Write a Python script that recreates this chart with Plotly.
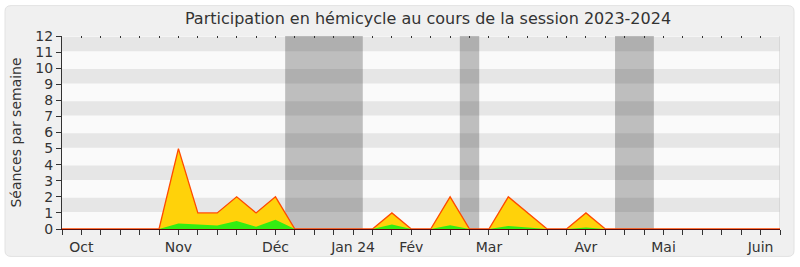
import plotly.graph_objects as go

# Week index (0 = first week of the axis) and values
weeks = list(range(0, 38))
total = [0, 0, 0, 0, 0, 0, 5, 1, 1, 2, 1, 2, 0, 0, 0, 0, 0, 1, 0, 0,
         2, 0, 0, 2, 1, 0, 0, 1, 0, 0, 0, 0, 0, 0, 0, 0, 0, 0]
present = [0, 0, 0, 0, 0, 0, 0.34, 0.28, 0.22, 0.49, 0.14, 0.57, 0, 0, 0, 0, 0, 0.28, 0, 0,
           0.24, 0, 0, 0.18, 0.1, 0, 0, 0.1, 0, 0, 0, 0, 0, 0, 0, 0, 0, 0]

month_ticks = [1, 6, 11, 15, 18, 22, 27, 31, 36]
month_labels = ["Oct", "Nov", "Déc", "Jan 24", "Fév", "Mar", "Avr", "Mai", "Juin"]

vacations = [(11.5, 15.5), (20.5, 21.5), (28.5, 30.5)]

y_max = 12
x_max = 37

W, H = 800, 267
ML, MR, MT, MB = 62, 20, 36, 34
PW, PH = W - ML - MR, H - MT - MB

def px2paper_x(px):
    return (px - ML) / PW

def px2paper_y(py):
    return (H - MB - py) / PH

ticktext = []
for w in weeks:
    ticktext.append(month_labels[month_ticks.index(w)] if w in month_ticks else "")

fig = go.Figure()

fig.add_trace(go.Scatter(
    x=weeks, y=total, mode="lines", fill="tozeroy",
    fillcolor="#ffd20a", line=dict(color="#ff4a00", width=1.3),
    hoverinfo="skip", showlegend=False))
fig.add_trace(go.Scatter(
    x=weeks, y=present, mode="lines", fill="tozeroy",
    fillcolor="#33ee11", line=dict(color="rgba(0,0,0,0)", width=0),
    hoverinfo="skip", showlegend=False))

shapes = []
# outer rounded box (paper referenced, below everything)
x0, x1 = px2paper_x(5), px2paper_x(794)
y0, y1 = px2paper_y(261), px2paper_y(5)
rx, ry = 6 / PW, 6 / PH
path = (f"M {x0+rx},{y0} L {x1-rx},{y0} Q {x1},{y0} {x1},{y0+ry} "
        f"L {x1},{y1-ry} Q {x1},{y1} {x1-rx},{y1} L {x0+rx},{y1} "
        f"Q {x0},{y1} {x0},{y1-ry} L {x0},{y0+ry} Q {x0},{y0} {x0+rx},{y0} Z")
shapes.append(dict(type="path", path=path, xref="paper", yref="paper",
                   fillcolor="#f0f0f0", line=dict(color="#e2e2e2", width=1),
                   layer="below"))
# plot background
shapes.append(dict(type="rect", xref="x", yref="y", x0=0, x1=x_max, y0=0, y1=y_max,
                   fillcolor="#fafafa", line=dict(width=0), layer="below"))
# horizontal stripes
for k in range(1, y_max, 2):
    shapes.append(dict(type="rect", xref="x", yref="y", x0=0, x1=x_max,
                       y0=k + 0.05, y1=k + 0.95, fillcolor="#e6e6e6",
                       line=dict(width=0), layer="below"))
# vacation bands
for a, b in vacations:
    shapes.append(dict(type="rect", xref="x", yref="y", x0=a, x1=b,
                       y0=0, y1=y_max, fillcolor="rgba(0,0,0,0.24)",
                       line=dict(width=0), layer="below"))
# right border
shapes.append(dict(type="line", xref="x", yref="y", x0=x_max, x1=x_max, y0=0, y1=y_max,
                   line=dict(color="#c8c8c8", width=1), layer="below"))

fig.update_layout(
    width=W, height=H,
    margin=dict(l=ML, r=MR, t=MT, b=MB),
    paper_bgcolor="white", plot_bgcolor="rgba(0,0,0,0)",
    font=dict(family="DejaVu Sans", color="#333333", size=14),
    title=dict(text="Participation en hémicycle au cours de la session 2023-2024",
               x=428 / W, xanchor="center", y=1 - 18 / H, yanchor="middle",
               yref="container", font=dict(size=16, color="#333333")),
    shapes=shapes,
    xaxis=dict(range=[0, x_max], tickmode="array", tickvals=weeks, ticktext=ticktext,
               ticks="outside", ticklen=5, tickcolor="#333333", tickwidth=1,
               showgrid=False, zeroline=False, showline=True, linecolor="#5a0a0a",
               linewidth=1, tickfont=dict(size=14, color="#333333")),
    xaxis2=dict(range=[0, x_max], overlaying="x", side="top", tickmode="array",
                tickvals=weeks, showticklabels=False, ticks="inside", ticklen=2,
                tickcolor="#333333", showgrid=False, zeroline=False, showline=False),
    yaxis=dict(range=[0, y_max], tickmode="array", tickvals=list(range(0, y_max + 1)),
               ticks="outside", ticklen=5, tickcolor="#333333", showgrid=False,
               zeroline=False, showline=True, linecolor="#333333", linewidth=1,
               tickfont=dict(size=14, color="#333333"),
               title=dict(text="Séances par semaine", font=dict(size=14, color="#333333"),
                          standoff=10)),
)
fig.add_trace(go.Scatter(x=[0], y=[0], xaxis="x2", mode="markers",
                         marker=dict(opacity=0), hoverinfo="skip", showlegend=False))

fig.write_html("out.html")
